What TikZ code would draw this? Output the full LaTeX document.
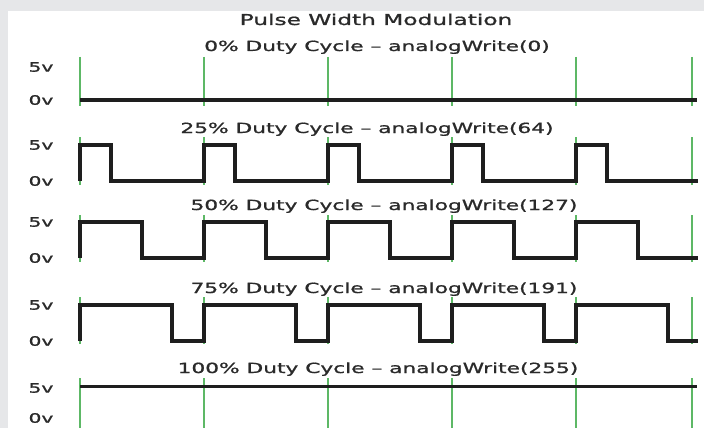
\documentclass[tikz,border=0pt]{standalone}
\usepackage{graphicx}
\usepackage{fontspec}
\setmainfont{DejaVu Sans}
\newfontfamily\plotfont{DejaVu Sans}[FakeBold=0.9]
\definecolor{pagegray}{HTML}{E6E7E9}
\definecolor{tickgreen}{HTML}{5DB866}
\definecolor{wavecol}{HTML}{1E1E1E}
\definecolor{txt}{HTML}{2A2A2A}
\newcommand{\wide}[1]{\scalebox{1.55}[1]{#1}}
\begin{document}
\begin{tikzpicture}[x=1pt,y=-1pt,
  caption/.style={anchor=base,inner sep=0pt,text=txt,font=\plotfont\fontsize{14}{14}\selectfont},
  heading/.style={anchor=base,inner sep=0pt,text=txt,font=\plotfont\fontsize{15}{15}\selectfont},
  level/.style={anchor=center,inner sep=0pt,text=txt,font=\plotfont\fontsize{13}{13}\selectfont},
  tick/.style={draw=tickgreen,line width=2.4pt},
  wave/.style={draw=wavecol,line width=3.6pt,line join=miter}]
\useasboundingbox (0,0) rectangle (704,428);
\fill[pagegray] (0,0) rectangle (704,428);
\fill[white] (8,11) rectangle (704,428);

% headings
\node[heading] (title) at (376,25) {\wide{Pulse Width Modulation}};
\node[caption] (cap0) at (377,51) {\wide{0\% Duty Cycle – analogWrite(0)}};
\node[caption] (cap1) at (367,133) {\wide{25\% Duty Cycle – analogWrite(64)}};
\node[caption] (cap2) at (384,210) {\wide{50\% Duty Cycle – analogWrite(127)}};
\node[caption] (cap3) at (384,293) {\wide{75\% Duty Cycle – analogWrite(191)}};
\node[caption] (cap4) at (378,373) {\wide{100\% Duty Cycle – analogWrite(255)}};

% voltage labels: row / high y / low y
\foreach \r/\hi/\lo in {0/67/100, 1/145/181, 2/222/258, 3/305/341, 4/388/418}{
  \node[level] (hi\r) at (41,\hi) {\wide{5v}};
  \node[level] (lo\r) at (41,\lo) {\wide{0v}};
}

% period markers
\foreach \x in {80,204,328,452,576,692}{
  \draw[tick] (\x,57) -- (\x,106);
  \draw[tick] (\x,137) -- (\x,185);
  \draw[tick] (\x,215) -- (\x,262);
  \draw[tick] (\x,297) -- (\x,344);
  \draw[tick] (\x,378) -- (\x,428);
}

% 0% : always low
\draw[wave,line width=3.2pt] (80,100) -- (697,100);
% pulse trains: high y / low y / pulse width
\foreach \hi/\lo/\w in {145/181/31, 222/258/62, 305/341/92}{
  \draw[wave] (80,\lo)
    \foreach \s in {80,204,328,452,576}{
      -- (\s,\lo) -- (\s,\hi) -- ({\s+\w},\hi) -- ({\s+\w},\lo)
    } -- (698,\lo);
}
% 100% : always high
\draw[wave,line width=3.0pt] (80,386) -- (697,386);
\end{tikzpicture}
\end{document}
